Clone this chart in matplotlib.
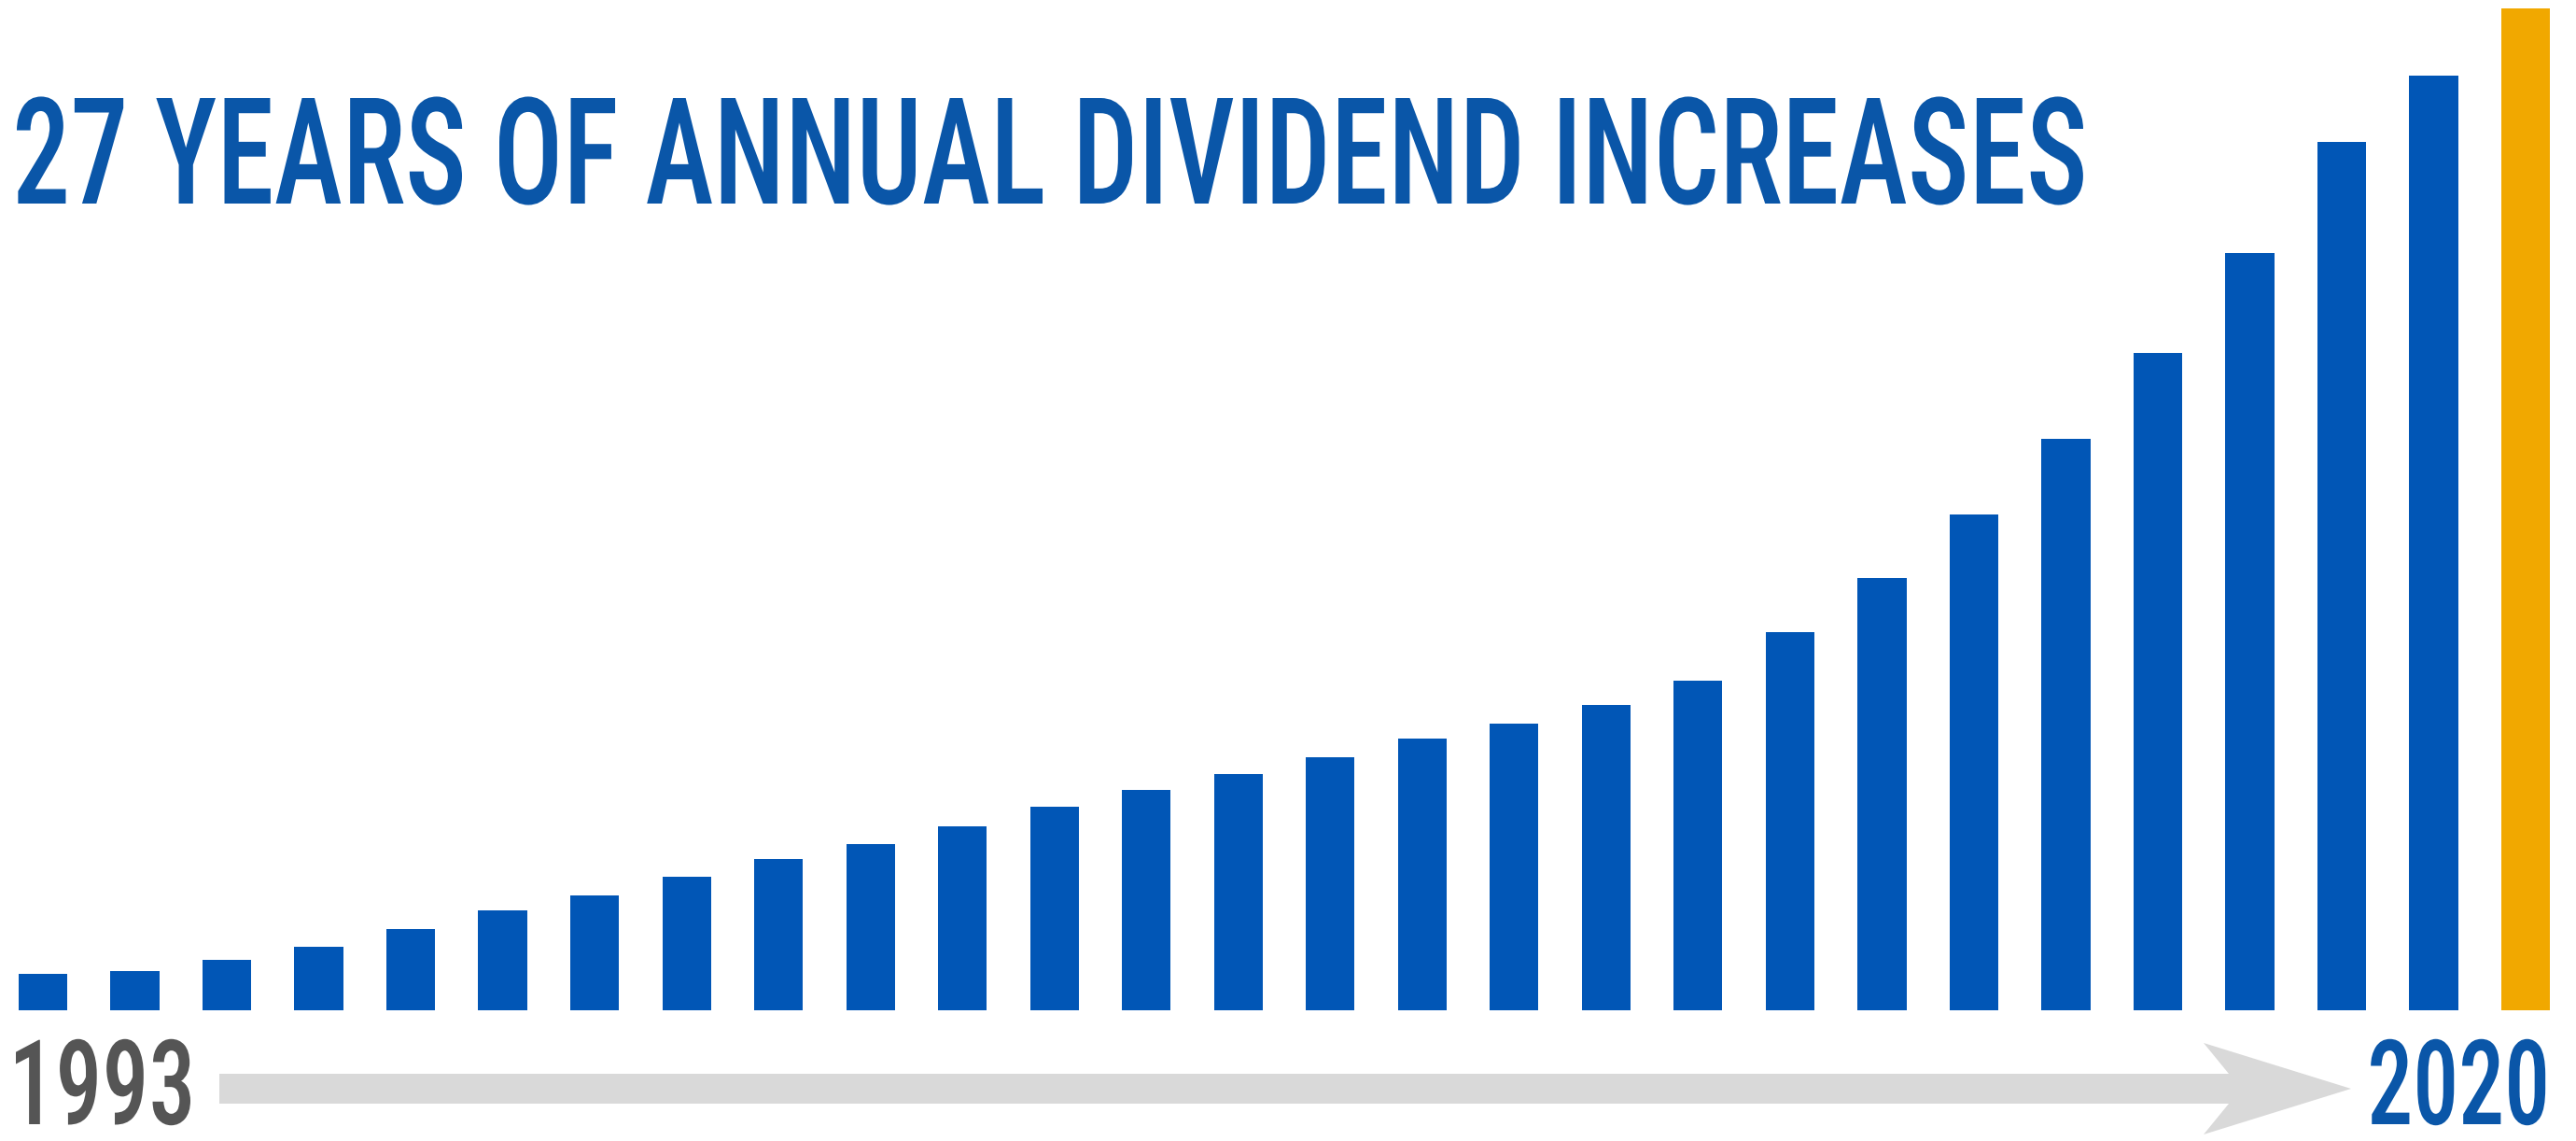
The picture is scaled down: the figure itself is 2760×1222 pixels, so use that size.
import os
import matplotlib
matplotlib.use("Agg")
import matplotlib.pyplot as plt
from matplotlib import font_manager as fm
from matplotlib.patches import Polygon
from matplotlib.patheffects import AbstractPathEffect
from matplotlib.transforms import Affine2D
from matplotlib.textpath import TextPath

# ---------------- data ----------------
years = list(range(1993, 2021))
dividend_index = [39, 42, 54, 68, 87, 107, 123, 143, 162, 178, 197, 218, 236, 253,
                  271, 291, 307, 327, 353, 405, 463, 531, 612, 704, 811, 930, 1001, 1073]
title_text = "27 YEARS OF ANNUAL DIVIDEND INCREASES"
start_label = "1993"
end_label = "2020"

BLUE = "#0156b6"
TITLE_BLUE = "#0a56a8"
ORANGE = "#f1a800"
ARROW_GRAY = "#d9d9d9"
LABEL_GRAY = "#555555"

W, H, DPI = 2760, 1222, 100

FILES = {os.path.basename(f.fname).lower(): f.fname for f in fm.fontManager.ttflist}


def find_font(prefs, fallback_weight="medium"):
    for p in prefs:
        for k in sorted(FILES):
            if k.startswith(p):
                return fm.FontProperties(fname=FILES[k])
    return fm.FontProperties(family="DejaVu Sans", weight=fallback_weight)


fp_text = find_font(["notosans-extracondensedmedium", "notosans-condensedmedium",
                     "notosans-semicondensedmedium", "robotocondensed-medium",
                     "liberationsansnarrow-regular", "dejavusanscondensed.",
                     "roboto-medium", "notosans-medium"])


class Stretch(AbstractPathEffect):
    """Scale glyph outlines about a fixed point (display px)."""
    def __init__(self, sx, sy, x0, y0):
        super().__init__()
        self.sx, self.sy, self.x0, self.y0 = sx, sy, x0, y0

    def draw_path(self, renderer, gc, tpath, affine, rgbFace=None):
        a = affine + Affine2D().translate(-self.x0, -self.y0).scale(self.sx, self.sy) \
            .translate(self.x0, self.y0)
        renderer.draw_path(gc, tpath, a, rgbFace)


fig = plt.figure(figsize=(W / DPI, H / DPI), dpi=DPI)
fig.patch.set_facecolor("white")

# bar axes: baseline at 1082 px from top, spanning whole width
base_px = 1082
ax = fig.add_axes([0, (H - base_px) / H, 1, base_px / H])
spacing = 98.52
xmin = -46 / spacing
xmax = xmin + W / spacing
colors = [BLUE] * (len(years) - 1) + [ORANGE]
ax.bar(range(len(years)), dividend_index, width=0.53, color=colors, linewidth=0)
ax.set_xlim(xmin, xmax)
ax.set_ylim(0, base_px)
ax.axis("off")

renderer = fig.canvas.get_renderer()


def make_text(x_ink, y_base, s, fp, target_w, target_cap, color, ha, sy=1.2):
    cap_ratio = TextPath((0, 0), "H", size=100, prop=fp).get_extents().height / 100
    size_pt = (target_cap / sy) / cap_ratio * 72 / DPI
    ext = TextPath((0, 0), s, size=size_pt, prop=fp).get_extents()
    ink_w = ext.width * DPI / 72
    sx = target_w / ink_w
    bear = ext.x0 * DPI / 72
    x_anchor = x_ink - bear * sx if ha == "left" else x_ink
    t = fig.text(x_anchor / W, 1 - y_base / H, s, fontproperties=fp, color=color,
                 ha=ha, va="baseline", fontsize=size_pt)
    bb = t.get_window_extent(renderer)
    if bb.y0 < 1:
        t.set_y(t.get_position()[1] + (1 - bb.y0) / H)
    y0 = t.get_position()[1] * H
    t.set_path_effects([Stretch(sx, sy, x_anchor, y0)])
    return t


make_text(18, 218, title_text, fp_text, 2214, 113, TITLE_BLUE, "left")
make_text(17, 1217, start_label, fp_text, 187, 90, LABEL_GRAY, "left", sy=1.5)
make_text(2732, 1217, end_label, fp_text, 187, 90, TITLE_BLUE, "right", sy=1.5)

# timeline arrow (decoration), in pixel space
pts_px = [(235, 1150), (2388, 1150), (2361, 1117), (2519, 1166),
          (2361, 1215), (2388, 1182), (235, 1182)]
pts = [(px / W, 1 - py / H) for px, py in pts_px]
fig.patches.append(Polygon(pts, closed=True, transform=fig.transFigure,
                           facecolor=ARROW_GRAY, edgecolor="none"))

fig.savefig("out.png", dpi=DPI, facecolor="white")
